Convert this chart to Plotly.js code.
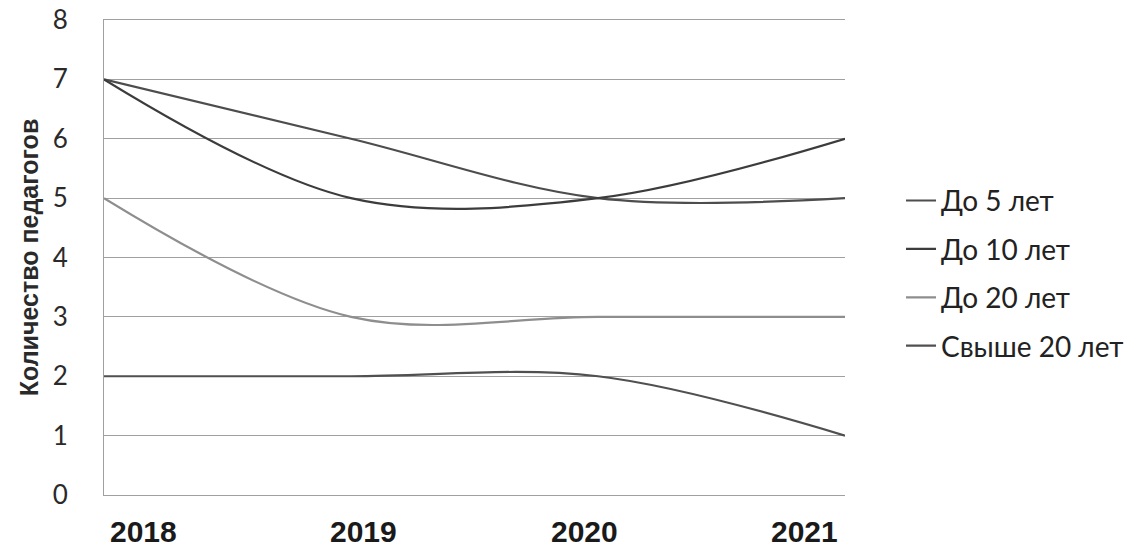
<!DOCTYPE html>
<html>
<head>
<meta charset="utf-8">
<script src="https://cdn.plot.ly/plotly-3.0.1.min.js"></script>
<style>html,body{margin:0;padding:0;background:#fff;}#chart{width:1130px;height:554px;}</style>
</head>
<body>
<div id="chart"></div>
<script>
var years = [2018, 2019, 2020, 2021];
var yearLabels = ["2018", "2019", "2020", "2021"];
var seriesNames = ["До 5 лет", "До 10 лет", "До 20 лет", "Свыше 20 лет"];
var upTo5 = [7, 6, 5, 5];
var upTo10 = [7, 5, 5, 6];
var upTo20 = [5, 3, 3, 3];
var over20 = [2, 2, 2, 1];
var yTicks = [0, 1, 2, 3, 4, 5, 6, 7, 8];

var seriesValues = [upTo5, upTo10, upTo20, over20];
var colors = ["#4d4d4d", "#3c3c3c", "#8e8e8e", "#505050"];

var traces = seriesValues.map(function (vals, i) {
  return {
    x: years,
    y: vals,
    name: seriesNames[i],
    legendgroup: "g" + i,
    type: "scatter",
    mode: "lines",
    line: {color: colors[i], width: 2.2, shape: "spline", smoothing: 1},
    hoverinfo: "skip"
  };
});

/* year labels in the scan sit on an evenly spaced row slightly inset from the data ends */
var labelStart = 0.0535;   /* paper fraction of first label centre */
var labelStep = 0.2973;    /* paper fraction between label centres */
var yearAnnotations = yearLabels.map(function (t, i) {
  return {
    text: t,
    xref: "paper", yref: "paper",
    x: labelStart + i * labelStep,
    y: -0.04,
    xanchor: "center", yanchor: "top",
    showarrow: false,
    borderpad: 0,
    font: {family: "'Liberation Sans', Arial, sans-serif", size: 30, color: "#1a1a1a", weight: "bold"}
  };
});

var layout = {
  width: 1130,
  height: 554,
  margin: {l: 104, r: 285, t: 20, b: 59, autoexpand: false},
  paper_bgcolor: "#fff",
  plot_bgcolor: "#fff",
  showlegend: true,
  legend: {
    x: 1.0756, y: 0.672, xanchor: "left", yanchor: "top",
    font: {family: "Lato, 'Open Sans', sans-serif", size: 28, color: "#222"},
    tracegroupgap: 9,
    itemwidth: 30,
    bgcolor: "rgba(0,0,0,0)"
  },
  annotations: yearAnnotations,
  xaxis: {
    range: [2018, 2021],
    tickvals: years,
    showticklabels: false,
    showgrid: false,
    zeroline: false,
    showline: true,
    mirror: true,
    linecolor: "#a0a0a0",
    linewidth: 1,
    ticks: ""
  },
  yaxis: {
    range: [0, 8],
    tickvals: yTicks,
    showgrid: true,
    gridcolor: "#a0a0a0",
    gridwidth: 1,
    zeroline: false,
    showline: true,
    linecolor: "#a0a0a0",
    linewidth: 1,
    ticks: "",
    ticklabelstandoff: 30,
    tickfont: {family: "Lato, 'Open Sans', sans-serif", size: 26, color: "#2a2a2a"},
    title: {
      text: "Количество педагогов",
      font: {family: "'Liberation Sans', Arial, sans-serif", size: 25, color: "#2a2a2a", weight: "bold"},
      standoff: 6
    }
  }
};

Plotly.newPlot("chart", traces, layout, {displayModeBar: false, staticPlot: true});
</script>
</body>
</html>
